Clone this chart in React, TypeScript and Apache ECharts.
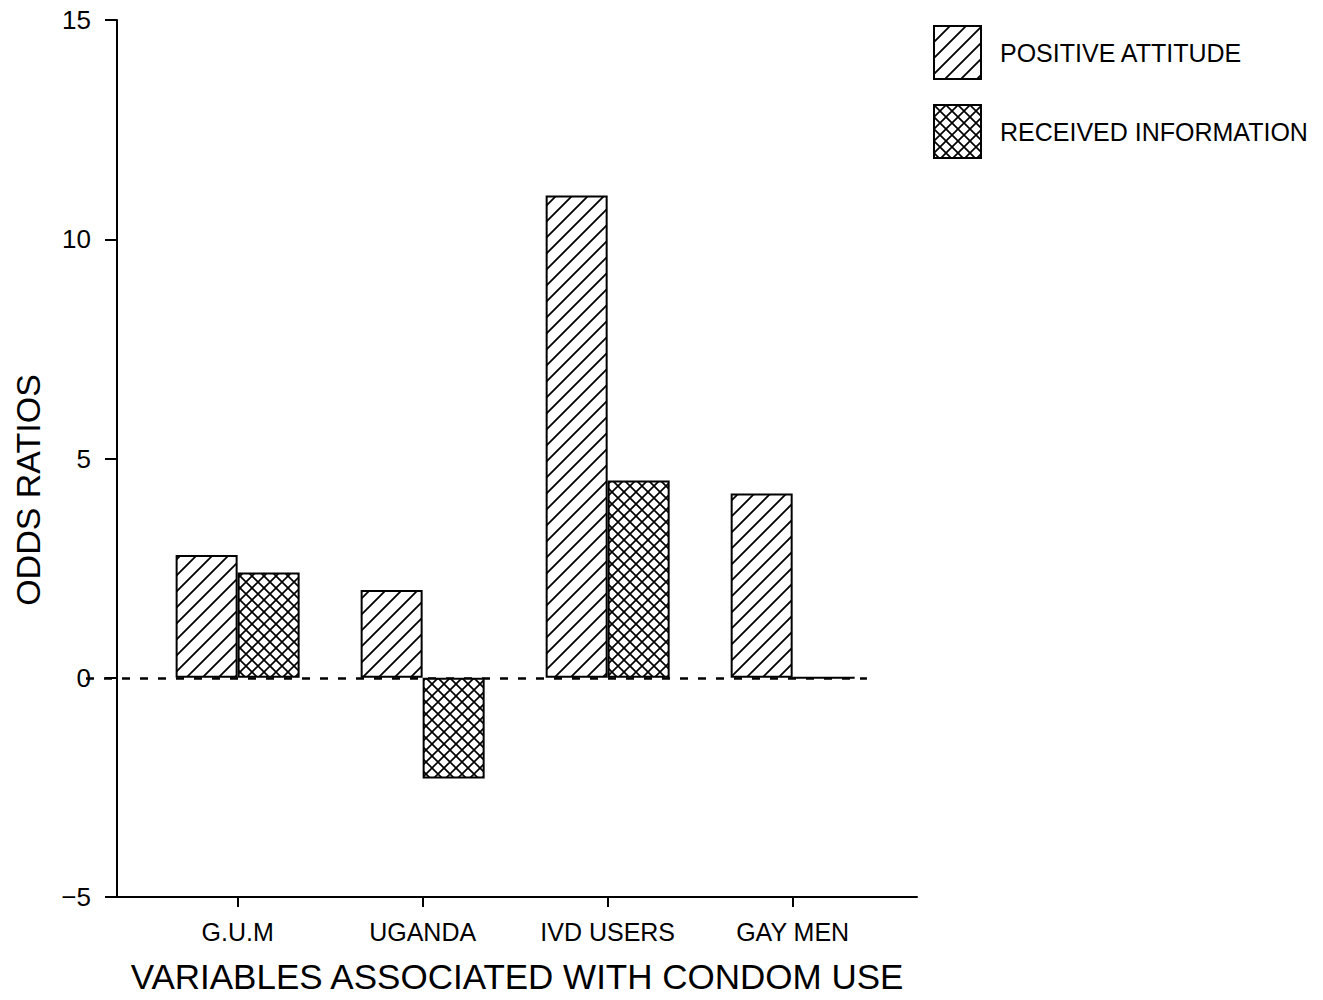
import React, { useEffect, useRef } from "react";
import * as echarts from "echarts";

const categories = ["G.U.M", "UGANDA", "IVD USERS", "GAY MEN"];
const positiveAttitude = [2.8, 2.0, 11.0, 4.2];
const receivedInformation = [2.4, -2.3, 4.5, 0];
const yTicks = [-5, 0, 5, 10, 15];
const seriesNames = ["POSITIVE ATTITUDE", "RECEIVED INFORMATION"];

const FONT = "'Liberation Sans', Arial, sans-serif";

const svgUrl = (svg: string) =>
  "data:image/svg+xml;charset=utf-8," + encodeURIComponent(svg);

const hatchSvg =
  "<svg xmlns='http://www.w3.org/2000/svg' width='16' height='16'>" +
  "<rect width='16' height='16' fill='white'/>" +
  "<path d='M-4,4 L4,-4 M-2,18 L18,-2 M12,20 L20,12' stroke='black' stroke-width='1.8' fill='none'/></svg>";

const crossSvg =
  "<svg xmlns='http://www.w3.org/2000/svg' width='12' height='12'>" +
  "<rect width='12' height='12' fill='white'/>" +
  "<path d='M-2,-2 L14,14 M14,-2 L-2,14' stroke='black' stroke-width='1.7' fill='none'/></svg>";

export default function App() {
  const ref = useRef<HTMLDivElement>(null);
  useEffect(() => {
    if (!ref.current) return;
    const chart = echarts.init(ref.current, null, { renderer: "svg" });
    const hatch: any = { image: svgUrl(hatchSvg), repeat: "repeat", imageWidth: 16, imageHeight: 16 };
    const cross: any = { image: svgUrl(crossSvg), repeat: "repeat", imageWidth: 12, imageHeight: 12 };
    const xMin = -0.652;
    const xMax = 3.672;
    const zeroLineEnd = 3.569;
    const idx = categories.map((_, i) => i);
    chart.setOption({
      animation: false,
      backgroundColor: "#fff",
      grid: { left: 117, right: 406, top: 20, bottom: 103, containLabel: false },
      legend: {
        orient: "vertical",
        left: 933,
        top: 25,
        padding: 0,
        itemWidth: 47,
        itemHeight: 53,
        itemGap: 24,
        icon: "rect",
        textStyle: { fontSize: 25, color: "#000", fontFamily: FONT, padding: [0, 0, 0, 14] },
        data: seriesNames,
      },
      xAxis: {
        type: "value",
        min: xMin,
        max: xMax,
        splitLine: { show: false },
        axisLine: { show: true, onZero: false, lineStyle: { color: "#000", width: 2 } },
        axisTick: { show: true, length: 10, customValues: idx, lineStyle: { color: "#000", width: 2 } },
        axisLabel: {
          customValues: idx,
          formatter: (v: number) => categories[Math.round(v)] ?? "",
          fontSize: 25,
          color: "#000",
          fontFamily: FONT,
          margin: 22,
        },
        name: "VARIABLES ASSOCIATED WITH CONDOM USE",
        nameLocation: "middle",
        nameGap: 62,
        nameTextStyle: { fontSize: 35, color: "#000", fontFamily: FONT },
      },
      yAxis: {
        type: "value",
        min: -5,
        max: 15,
        interval: 5,
        splitLine: { show: false },
        axisLine: { show: true, onZero: false, lineStyle: { color: "#000", width: 2 } },
        axisTick: { show: true, length: 12, lineStyle: { color: "#000", width: 2 } },
        axisLabel: {
          fontSize: 26,
          color: "#000",
          fontFamily: FONT,
          margin: 26,
          formatter: (v: number) => (yTicks.includes(v) ? (v < 0 ? "\u2212" + Math.abs(v) : String(v)) : ""),
        },
      },
      graphic: [
        {
          type: "text",
          x: 28,
          y: 490,
          rotation: Math.PI / 2,
          style: {
            text: "ODDS RATIOS",
            fontSize: 34,
            fill: "#000",
            fontFamily: FONT,
            align: "center",
            verticalAlign: "middle",
          },
        },
      ],
      series: [
        {
          name: seriesNames[0],
          type: "bar",
          barWidth: 62,
          barGap: "0%",
          data: positiveAttitude.map((v, i) => [i, v]),
          itemStyle: { color: hatch, borderColor: "#000", borderWidth: 2 },
          markLine: {
            silent: true,
            symbol: ["none", "none"],
            label: { show: false },
            lineStyle: { type: [8, 10], color: "#000", width: 2.5 },
            data: [[{ xAxis: xMin, yAxis: 0 }, { xAxis: zeroLineEnd, yAxis: 0 }]],
            z: 1,
          },
        },
        {
          name: seriesNames[1],
          type: "bar",
          barWidth: 62,
          barGap: "0%",
          data: receivedInformation.map((v, i) => [i, v]),
          itemStyle: { color: cross, borderColor: "#000", borderWidth: 2 },
        },
      ],
    });
    return () => chart.dispose();
  }, []);
  return (
    <div
      ref={ref}
      style={{ position: "fixed", left: 0, top: 0, width: 1323, height: 1000, background: "#fff" }}
    />
  );
}
